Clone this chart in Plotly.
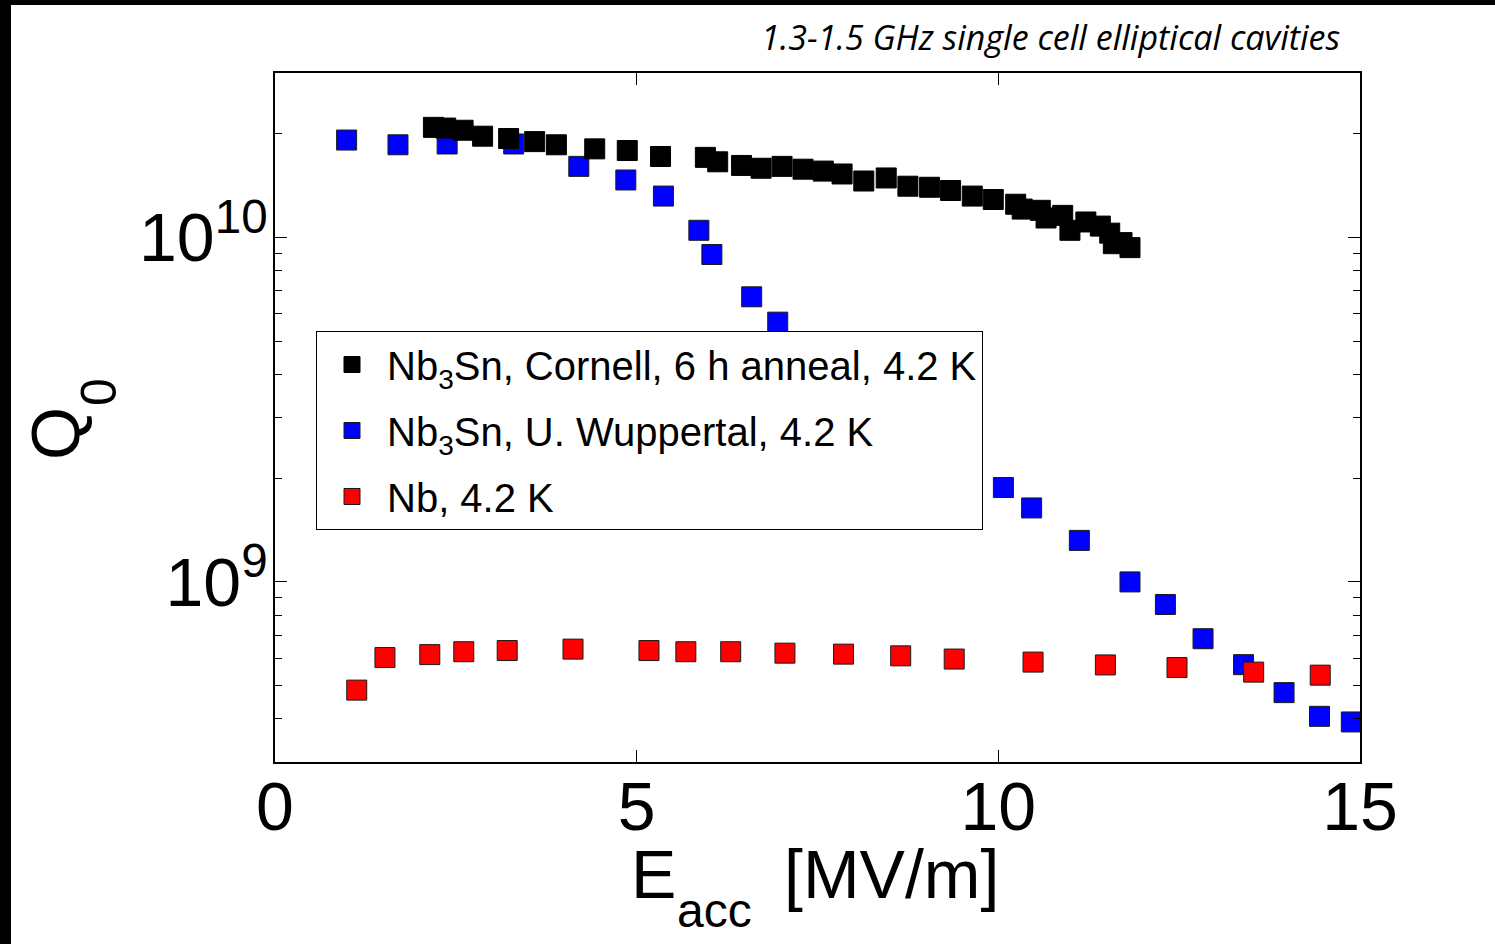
import plotly.graph_objects as go

# Q0 vs accelerating gradient for 1.3-1.5 GHz single-cell cavities
cornell_e = [2.19, 2.36, 2.60, 2.87, 3.23, 3.59, 3.89, 4.42, 4.87, 5.33, 5.95, 6.12,
             6.45, 6.72, 7.01, 7.30, 7.58, 7.84, 8.14, 8.45, 8.75, 9.05, 9.34, 9.64,
             9.93, 10.24, 10.33, 10.58, 10.66, 10.89, 10.99, 11.21, 11.41, 11.54,
             11.59, 11.71, 11.82]
cornell_q = [2.09e10, 2.08e10, 2.05e10, 1.97e10, 1.94e10, 1.90e10, 1.86e10, 1.81e10,
             1.79e10, 1.72e10, 1.71e10, 1.66e10, 1.62e10, 1.59e10, 1.61e10, 1.58e10,
             1.56e10, 1.53e10, 1.46e10, 1.49e10, 1.41e10, 1.40e10, 1.37e10, 1.32e10,
             1.29e10, 1.25e10, 1.21e10, 1.20e10, 1.14e10, 1.16e10, 1.05e10, 1.11e10,
             1.08e10, 1.03e10, 9.6e9, 9.67e9, 9.35e9]

wuppertal_e = [0.99, 1.70, 2.38, 3.30, 4.20, 4.85, 5.37, 5.86, 6.04, 6.59, 6.95,
               10.07, 10.46, 11.12, 11.82, 12.31, 12.83, 13.39, 13.95, 14.44, 14.88]
wuppertal_q = [1.92e10, 1.86e10, 1.87e10, 1.87e10, 1.61e10, 1.47e10, 1.32e10, 1.05e10,
               8.93e9, 6.73e9, 5.68e9, 1.88e9, 1.64e9, 1.32e9, 1.00e9, 8.6e8, 6.84e8,
               5.75e8, 4.77e8, 4.07e8, 3.92e8]

nb_e = [1.13, 1.52, 2.14, 2.61, 3.21, 4.12, 5.17, 5.68, 6.30, 7.05, 7.86, 8.65,
        9.39, 10.48, 11.48, 12.47, 13.53, 14.45]
nb_q = [4.85e8, 6.03e8, 6.15e8, 6.27e8, 6.32e8, 6.38e8, 6.32e8, 6.27e8, 6.27e8,
        6.21e8, 6.17e8, 6.10e8, 5.97e8, 5.85e8, 5.74e8, 5.64e8, 5.47e8, 5.36e8]

x_ticks = [0, 5, 10, 15]
y_major = [1e9, 1e10]
y_major_text = ["10<sup>9</sup>", "10<sup>10</sup>"]
y_minor = [4e8, 5e8, 6e8, 7e8, 8e8, 9e8,
           2e9, 3e9, 4e9, 5e9, 6e9, 7e9, 8e9, 9e9,
           2e10, 3e10]

W, H = 1495, 944
L, R, T, B = 275, 135, 73, 182
PW, PH = W - L - R, H - T - B


def px(x):
    return (x - L) / PW


def py(y):
    return (H - B - y) / PH


FONT = "Arial, Liberation Sans, sans-serif"

fig = go.Figure()

fig.add_trace(go.Scatter(
    x=wuppertal_e, y=wuppertal_q, mode="markers",
    name="Nb<sub>3</sub>Sn, U. Wuppertal, 4.2 K",
    legendgroup="w", legendrank=2,
    marker=dict(symbol="square", size=20, color="#0000ff",
                line=dict(color="#1a1a1a", width=1)),
))
fig.add_trace(go.Scatter(
    x=nb_e, y=nb_q, mode="markers",
    name="Nb, 4.2 K",
    legendgroup="n", legendrank=3,
    marker=dict(symbol="square", size=20, color="#ff0000",
                line=dict(color="#1a1a1a", width=1)),
))
fig.add_trace(go.Scatter(
    x=cornell_e, y=cornell_q, mode="markers",
    name="Nb<sub>3</sub>Sn, Cornell, 6 h anneal, 4.2 K",
    legendgroup="c", legendrank=1,
    marker=dict(symbol="square", size=20, color="#000000",
                line=dict(color="#000000", width=1)),
))

axis_common = dict(
    showline=True, linecolor="black", linewidth=1.5, mirror="ticks",
    ticks="inside", tickcolor="black", tickwidth=1, ticklen=12,
    showgrid=False, zeroline=False,
    tickfont=dict(family=FONT, size=68, color="black"),
)

fig.update_xaxes(
    range=[0, 15], tickmode="array", tickvals=x_ticks,
    ticktext=[str(v) for v in x_ticks], ticklabelstandoff=-15,
    **axis_common,
)
fig.update_yaxes(
    type="log", range=[8.477, 10.478],
    tickmode="array", tickvals=y_major, ticktext=y_major_text,
    ticklabelstandoff=-8,
    minor=dict(tickmode="array", tickvals=y_minor, ticks="inside",
               ticklen=7, tickwidth=1, tickcolor="black", showgrid=False),
    **axis_common,
)

annotations = [
    # axis titles
    dict(text="E", x=px(629), y=py(874.4), xanchor="left", yanchor="middle",
         font=dict(family=FONT, size=68, color="black")),
    dict(text="acc", x=px(675), y=py(910.4), xanchor="left", yanchor="middle",
         font=dict(family=FONT, size=48, color="black")),
    dict(text="[MV/m]", x=px(782), y=py(874.4), xanchor="left", yanchor="middle",
         font=dict(family=FONT, size=68, color="black")),
    dict(text="Q", x=px(55), y=py(434), xanchor="center", yanchor="middle",
         textangle=-90, font=dict(family=FONT, size=68, color="black")),
    dict(text="0", x=px(99), y=py(392), xanchor="center", yanchor="middle",
         textangle=-90, font=dict(family=FONT, size=50, color="black")),
    # heading
    dict(text="<i>1.3-1.5 GHz single cell elliptical cavities</i>",
         x=px(1342), y=py(36.5), xanchor="right", yanchor="middle",
         font=dict(family="Open Sans, sans-serif", size=34, color="black")),
]
for a in annotations:
    a.update(xref="paper", yref="paper", showarrow=False)

fig.update_layout(
    width=W, height=H,
    margin=dict(l=L, r=R, t=T, b=B),
    paper_bgcolor="white", plot_bgcolor="white",
    showlegend=True,
    legend=dict(
        x=px(316), y=py(331), xanchor="left", yanchor="top",
        bgcolor="white", bordercolor="black", borderwidth=1,
        font=dict(family=FONT, size=40, color="black"),
        itemwidth=60, tracegroupgap=11,
    ),
    annotations=annotations,
    shapes=[
        dict(type="rect", xref="paper", yref="paper",
             x0=px(0), x1=px(11), y0=py(H), y1=py(0),
             fillcolor="black", line=dict(width=0), layer="above"),
        dict(type="rect", xref="paper", yref="paper",
             x0=px(0), x1=px(W), y0=py(5), y1=py(0),
             fillcolor="black", line=dict(width=0), layer="above"),
    ],
)

fig.write_html("out.html")
